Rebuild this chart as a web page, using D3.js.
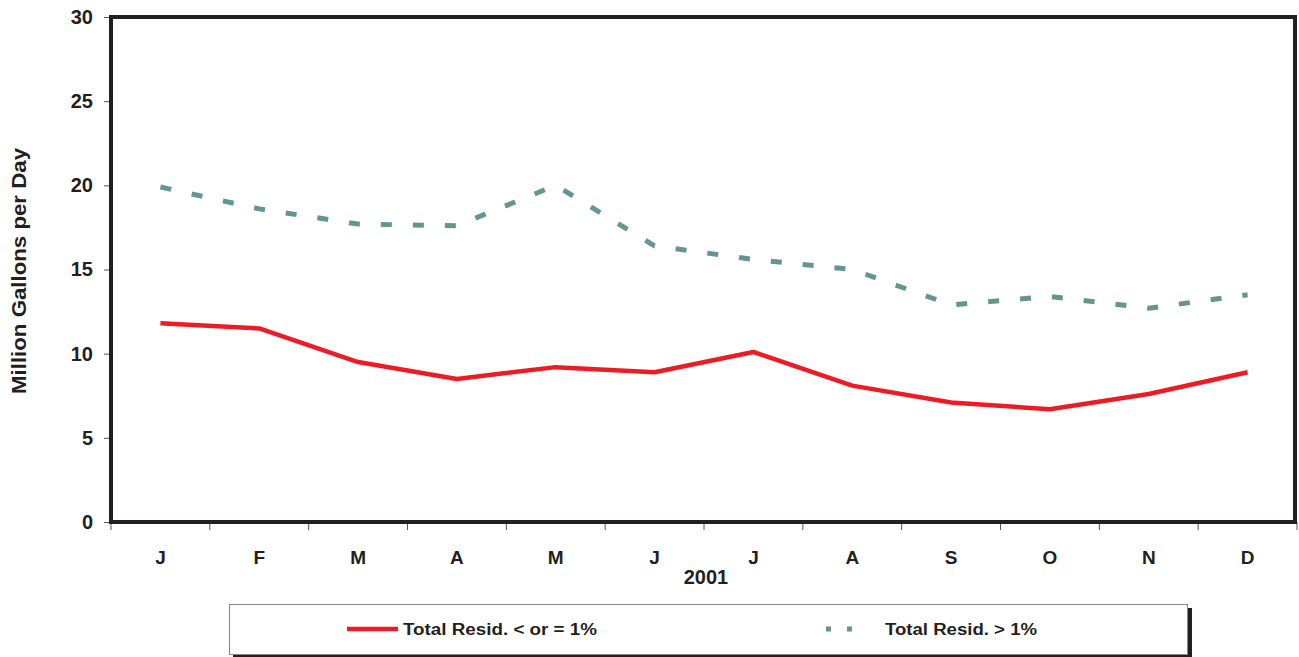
<!DOCTYPE html>
<html><head><meta charset="utf-8">
<script src="https://cdn.jsdelivr.net/npm/d3@7"></script>
<style>body{margin:0;background:#fff}svg{display:block}text{font-family:"Liberation Sans",Arial,sans-serif;font-weight:bold;fill:#231f20}</style>
</head><body><svg id="c" width="1299" height="657"></svg>
<script>
const months = ["J","F","M","A","M","J","J","A","S","O","N","D"];
const lowResid = [11.8,11.5,9.5,8.5,9.2,8.9,10.1,8.1,7.1,6.7,7.6,8.9];
const highResid = [19.9,18.6,17.7,17.6,20.0,16.4,15.6,15.0,12.9,13.4,12.7,13.5];
const yTicks = [0,5,10,15,20,25,30];
const seriesNames = ["Total Resid. < or = 1%","Total Resid. > 1%"];
const xTitle = "2001";
const yTitle = "Million Gallons per Day";

const svg = d3.select("#c");
const L=111, R=1297, T=17, B=522;
const idx = months.map((d,i)=>i);
const x = d3.scaleBand().domain(idx).range([L,R]);
const y = d3.scaleLinear().domain([0,30]).range([B,T]);
const ink="#231f20";

// y axis ticks + labels
const ya = svg.append("g").attr("transform",`translate(${L},0)`)
  .call(d3.axisLeft(y).tickValues(yTicks).tickSize(7).tickPadding(11));
ya.select(".domain").remove();
ya.selectAll("line").attr("stroke","#555").attr("stroke-width",1);
ya.selectAll("text").attr("font-size",20).attr("font-family","Liberation Sans, Arial").attr("font-weight","bold").attr("fill",ink);

// x axis ticks at band boundaries
const xb = d3.scaleLinear().domain([0,12]).range([L,R]);
svg.append("g").selectAll("line").data(d3.range(13)).join("line")
  .attr("x1",d=>xb(d)).attr("x2",d=>xb(d)).attr("y1",B).attr("y2",B+8)
  .attr("stroke","#555").attr("stroke-width",1);
svg.append("g").selectAll("text").data(idx).join("text")
  .attr("x",d=>x(d)+x.bandwidth()/2).attr("y",564)
  .attr("text-anchor","middle").attr("font-size",19).text(d=>months[d]);
svg.append("text").attr("x",706).attr("y",584).attr("text-anchor","middle").attr("font-size",20).text(xTitle);
svg.append("text").attr("transform","translate(26,271) rotate(-90)").attr("text-anchor","middle").attr("font-size",20)
  .attr("textLength",246).attr("lengthAdjust","spacingAndGlyphs").text(yTitle);

// lines
const line = d3.line().x((d,i)=>x(i)+x.bandwidth()/2).y(d=>y(d));
svg.append("path").datum(highResid).attr("d",line).attr("fill","none")
  .attr("stroke","#659592").attr("stroke-width",5).attr("stroke-dasharray","11,21");
svg.append("path").datum(lowResid).attr("d",line).attr("fill","none")
  .attr("stroke","#ed1c24").attr("stroke-width",4.5).attr("stroke-linejoin","round");

// frame
svg.append("rect").attr("x",L).attr("y",T).attr("width",R-L-2).attr("height",B-T)
  .attr("fill","none").attr("stroke",ink).attr("stroke-width",4);

// legend
svg.append("rect").attr("x",233).attr("y",608).attr("width",959).attr("height",50).attr("fill",ink);
svg.append("rect").attr("x",229.5).attr("y",604.5).attr("width",958).attr("height",50).attr("fill","#fff").attr("stroke","#888").attr("stroke-width",1);
svg.append("line").attr("x1",347).attr("x2",398).attr("y1",629).attr("y2",629).attr("stroke","#ed1c24").attr("stroke-width",4.5);
svg.append("line").attr("x1",826).attr("x2",852).attr("y1",629).attr("y2",629).attr("stroke","#659592").attr("stroke-width",5).attr("stroke-dasharray","5,16");
svg.append("text").attr("x",403).attr("y",635).attr("font-size",16).attr("textLength",194).attr("lengthAdjust","spacingAndGlyphs").text(seriesNames[0]);
svg.append("text").attr("x",885).attr("y",635).attr("font-size",16).attr("textLength",152).attr("lengthAdjust","spacingAndGlyphs").text(seriesNames[1]);
</script></body></html>
